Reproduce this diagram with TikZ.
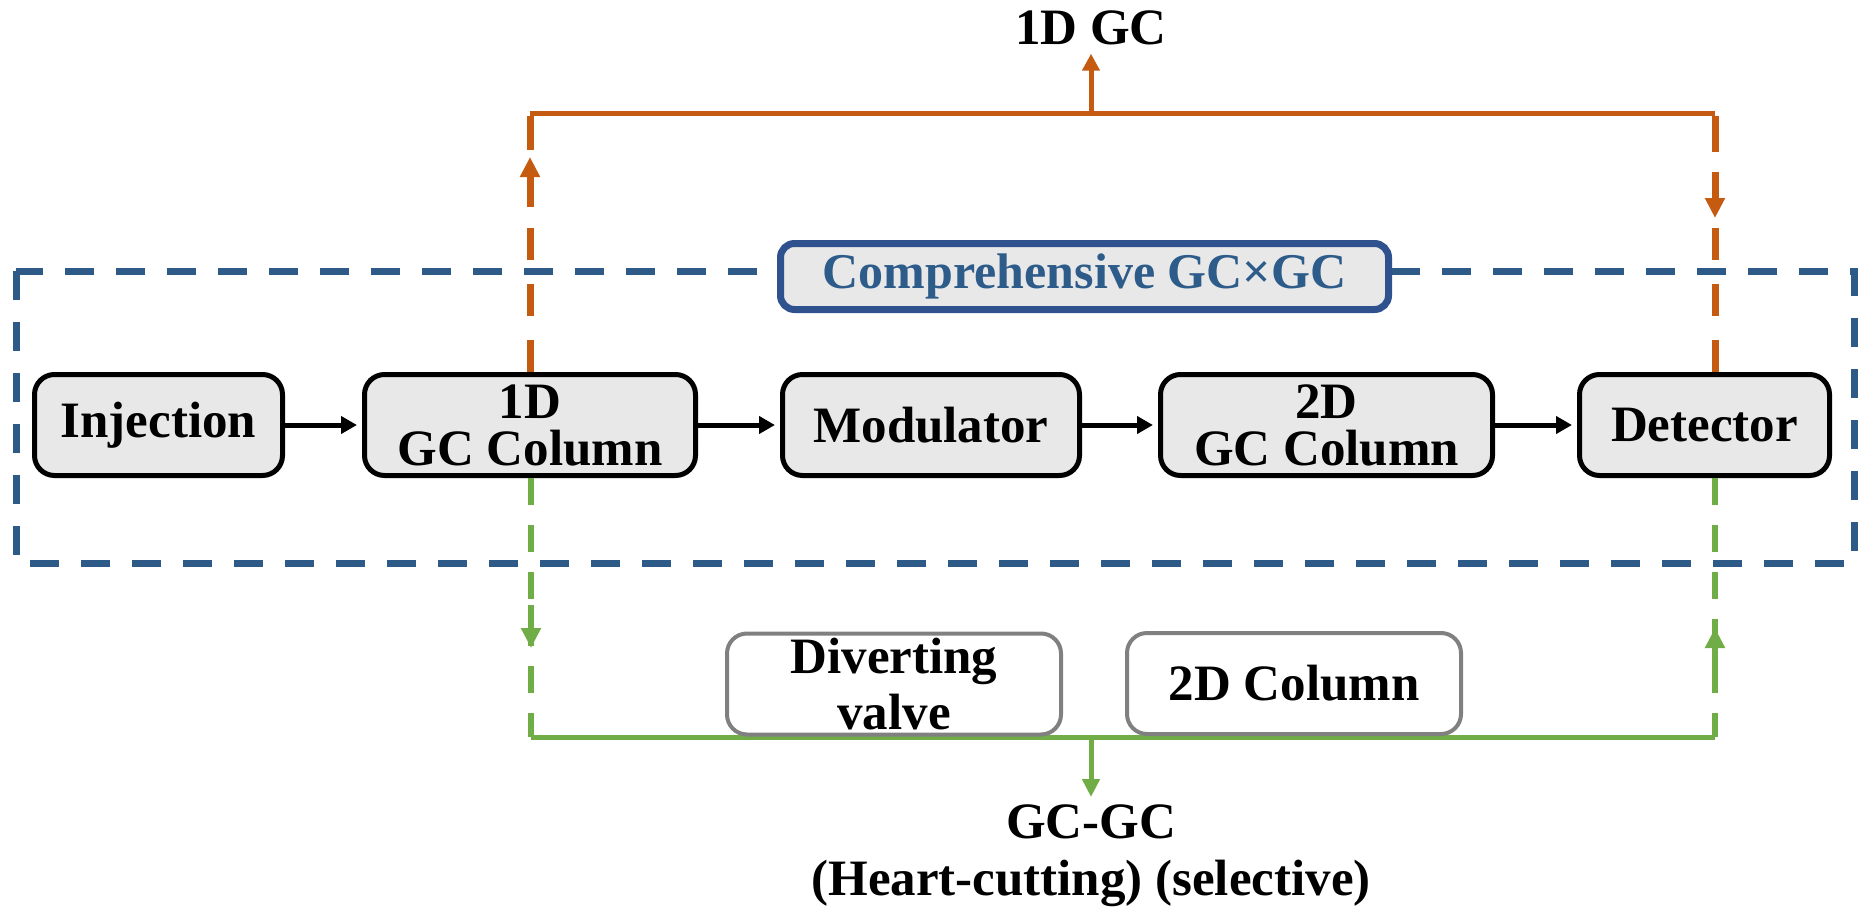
\documentclass[tikz,border=0pt]{standalone}
\usepackage{fontspec}
\setmainfont{Liberation Serif}
\usetikzlibrary{arrows.meta}
\definecolor{bdash}{RGB}{46,90,136}
\definecolor{cbord}{RGB}{47,82,143}
\definecolor{ctext}{RGB}{46,92,138}
\definecolor{ocol}{RGB}{197,90,17}
\definecolor{gcol}{RGB}{112,173,71}
\definecolor{gbord}{RGB}{128,128,128}
\definecolor{boxfill}{RGB}{232,232,232}
\newcommand\mybig{\fontsize{51}{47}\selectfont\bfseries}
\newcommand\mybigw{\fontsize{51}{56}\selectfont\bfseries}
\newcommand\mylbl{\fontsize{51}{57}\selectfont\bfseries}
\begin{document}
\begin{tikzpicture}[x=1pt,y=-1pt,
  mainbox/.style={draw=black, line width=5pt, fill=boxfill, rounded corners=20pt,
    inner sep=0pt, align=center, font=\mybig, minimum height=101pt},
  graybox/.style={draw=gbord, line width=4pt, fill=white, rounded corners=20pt,
    inner sep=0pt, align=center, font=\mybigw, minimum height=101pt},
  flow/.style={line width=5pt, -{Triangle[length=16pt,width=17pt]}, shorten >=5pt},
  odash/.style={draw=ocol, line width=7pt, dash pattern=on 32pt off 24pt},
  oline/.style={draw=ocol, line width=5pt},
  ohead/.style={draw=ocol, fill=ocol, line width=7pt, -{Triangle[length=20pt,width=19pt]}},
  gdash/.style={draw=gcol, line width=6pt, dash pattern=on 27pt off 20pt},
  gline/.style={draw=gcol, line width=5pt},
  ghead/.style={draw=gcol, fill=gcol, line width=6pt, -{Triangle[length=20pt,width=19pt]}},
  lbl/.style={inner sep=0pt, align=center, font=\mylbl}
]
\useasboundingbox (0,0) rectangle (1861,910);

% comprehensive frame
\draw[bdash, line width=7pt, dash pattern=on 29pt off 22pt] (16,271) rectangle (1854,563);

% main chain
\node[mainbox, minimum width=248pt] (inj) at (158.5,425) {Injection};
\node[mainbox, minimum width=331pt] (gc1) at (530,425) {1D\\GC Column};
\node[mainbox, minimum width=297pt] (mod) at (931,425) {Modulator};
\node[mainbox, minimum width=332pt] (gc2) at (1326.5,425) {2D\\GC Column};
\node[mainbox, minimum width=250pt] (det) at (1704.5,425) {Detector};

\draw[flow] (inj) -- (gc1);
\draw[flow] (gc1) -- (mod);
\draw[flow] (mod) -- (gc2);
\draw[flow] (gc2) -- (det);

% comprehensive label
\node[draw=cbord, line width=7pt, fill=boxfill, rounded corners=14pt,
  minimum width=608pt, minimum height=66pt, inner sep=0pt, text=ctext,
  font=\fontsize{50}{50}\selectfont\bfseries] (comp) at (1084.5,276.5) {Comprehensive GC×GC};

% 1D GC branch (orange)
\coordinate (lc) at (530,113);
\coordinate (rc) at (1715,113);
\coordinate (tm) at (1091,113);
\node[lbl, anchor=north] (t1) at (1091,11) {1D GC};
\draw[odash] (gc1.north) -- (lc);
\draw[odash] (det.north -| rc) -- (rc);
\draw[oline] (lc) -- (rc);
\draw[draw=ocol, line width=7pt] ([yshift=-2.5pt]lc) -- ++(0,34);
\draw[draw=ocol, line width=7pt] ([yshift=-2.5pt]rc) -- ++(0,36);
\draw[ohead] (530,207) -- (530,157);
\draw[ohead] (1715,172) -- (1715,218);
\draw[oline, -{Triangle[length=17pt,width=17pt]}, shorten >=8pt] (tm) -- (t1.south);

% heart-cutting branch (green)
\coordinate (lg) at (531,737);
\coordinate (rg) at (1715,737);
\coordinate (bm) at (1091,737);
\node[lbl, anchor=north] (t2) at (1091,805) {GC-GC\\(Heart-cutting) (selective)};
\draw[gdash] (gc1.south -| lg) -- (lg);
\draw[gdash] (det.south -| rg) -- (rg);
\draw[gline] (lg) -- (rg);
\draw[ghead] (531,605) -- (531,648);
\draw[ghead] (1715,672) -- (1715,628);
\draw[gline, -{Triangle[length=18pt,width=17pt]}, shorten >=8pt] (bm) -- (t2.north);

\node[graybox, minimum width=334pt] (dv) at (894,684) {Diverting\\valve};
\node[graybox, minimum width=334pt] (c2) at (1294,683.5) {2D Column};
\end{tikzpicture}
\end{document}
